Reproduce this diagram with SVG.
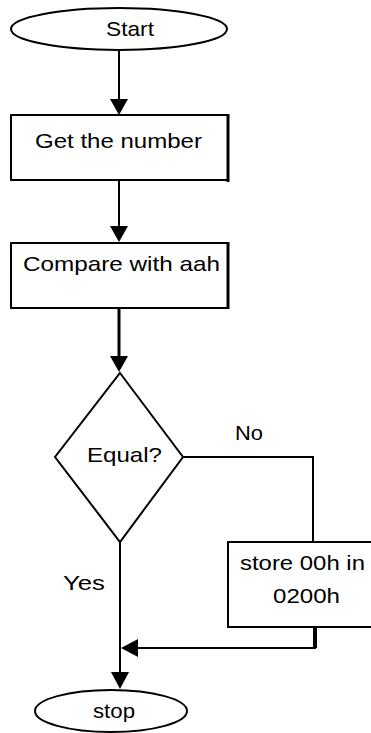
<svg xmlns="http://www.w3.org/2000/svg" width="371" height="733" viewBox="0 0 371 733">
<defs>
<style>
.s{fill:#fff;stroke:#000;stroke-width:2}
.t{font-family:"Liberation Sans",Arial,sans-serif;font-size:21px;fill:#000}
.c{fill:none;stroke:#000;stroke-width:2}
.a{fill:#000}
</style>
</defs>
<rect width="371" height="733" fill="#fff"/>
<g id="connectors">
<path class="c" d="M119,50 V100"/>
<path class="c" d="M119,181 V227"/>
<path class="c" d="M119,308 V357" style="stroke-width:3"/>
<path class="c" d="M183,457 H313 V542"/>
<path class="c" d="M120,542 V673"/>
<path class="c" d="M315,627 V648 H137"/>
<path d="M315,627 V648" stroke="#000" stroke-width="4"/>
<path class="a" d="M110,99 H128 L119,115 Z"/>
<path class="a" d="M110,226 H128 L119,242 Z"/>
<path class="a" d="M110,356 H128 L119,372 Z"/>
<path class="a" d="M111,672 H129 L120,689 Z"/>
<path class="a" d="M138,639 V657 L121,648 Z"/>
<text class="t" x="235" y="440" textLength="28" lengthAdjust="spacingAndGlyphs">No</text>
<text class="t" x="63" y="590" textLength="42" lengthAdjust="spacingAndGlyphs">Yes</text>
</g>
<g id="start">
<ellipse class="s" cx="119" cy="29" rx="108" ry="21"/>
<text class="t" x="106" y="36" textLength="48" lengthAdjust="spacingAndGlyphs">Start</text>
</g>
<g id="get">
<rect class="s" x="11" y="115" width="217" height="65"/>
<path d="M228,114 V182" stroke="#000" stroke-width="3"/>
<text class="t" x="35" y="148" textLength="167" lengthAdjust="spacingAndGlyphs">Get the number</text>
</g>
<g id="compare">
<rect class="s" x="11" y="243" width="217" height="65"/>
<path d="M228,242 V309" stroke="#000" stroke-width="3"/>
<text class="t" x="23" y="271" textLength="197" lengthAdjust="spacingAndGlyphs">Compare with aah</text>
</g>
<g id="equal">
<polygon class="s" points="120,373 183,457 120,542 55,457"/>
<text class="t" x="87" y="462" textLength="75" lengthAdjust="spacingAndGlyphs">Equal?</text>
</g>
<g id="store">
<rect class="s" x="228" y="542" width="160" height="85"/>
<text class="t" x="240" y="570" textLength="125" lengthAdjust="spacingAndGlyphs">store 00h in</text>
<text class="t" x="273" y="603" textLength="67" lengthAdjust="spacingAndGlyphs">0200h</text>
</g>
<g id="stop">
<ellipse class="s" cx="111" cy="711" rx="76" ry="21"/>
<text class="t" x="93" y="718" textLength="42" lengthAdjust="spacingAndGlyphs">stop</text>
</g>
</svg>
